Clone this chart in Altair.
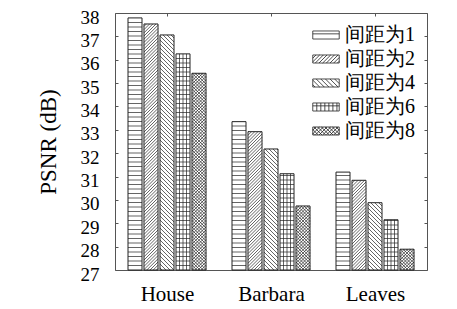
import altair as alt
import pandas as pd

# ---------------- data ----------------
categories = ["House", "Barbara", "Leaves"]
series = ["间距为1", "间距为2", "间距为4", "间距为6", "间距为8"]
psnr_gap1 = [37.79, 33.35, 31.19]
psnr_gap2 = [37.53, 32.92, 30.84]
psnr_gap4 = [37.06, 32.18, 29.88]
psnr_gap6 = [36.25, 31.12, 29.15]
psnr_gap8 = [35.42, 29.74, 27.89]
y_ticks = [27, 28, 29, 30, 31, 32, 33, 34, 35, 36, 37, 38]

series_values = [psnr_gap1, psnr_gap2, psnr_gap4, psnr_gap6, psnr_gap8]
patterns = ["h", "/", "\\", "grid", "x"]

# ---------------- layout / style ----------------
FONT = "Liberation Serif"
W, H = 312, 257
YMIN, YMAX = 27, 38
XMIN, XMAX = 0.5, 3.5
KX = W / (XMAX - XMIN)   # px per x unit
KY = H / (YMAX - YMIN)   # px per y unit
BAR_PX = 14
STEP_PX = 16
HSP = 4.5     # horizontal stripe spacing (px)
VSP = 3.5     # vertical stripe spacing (px)
DSP = {"/": 3.2, "\\": 4.0, "x": 3.2}


def diag(w, h, d):
    out = []
    c = -w + d / 2
    while c < h:
        xs = max(0.0, -c)
        xe = min(w, h - c)
        if xe - xs > 0.3:
            out.append((xs, xs + c, xe, xe + c))
        c += d
    return out


def hatch(kind, w, h):
    segs = []
    if kind in ("h", "grid"):
        y = HSP
        while y < h - 0.5:
            segs.append((0, y, w, y))
            y += HSP
    if kind == "grid":
        x = VSP
        while x < w - 0.5:
            segs.append((x, 0, x, h))
            x += VSP
    if kind in ("/", "x"):
        segs += diag(w, h, DSP[kind])
    if kind in ("\\", "x"):
        segs += [(w - a, b, w - c, d) for a, b, c, d in diag(w, h, DSP[kind])]
    return segs


bar_rows, hatch_rows = [], []
for s, (name, vals, pat) in enumerate(zip(series, series_values, patterns)):
    for g, (cat, v) in enumerate(zip(categories, vals)):
        center = (g + 1) + (s - 2) * STEP_PX / KX
        x0 = center - BAR_PX / 2 / KX
        x1 = center + BAR_PX / 2 / KX
        bar_rows.append({"category": cat, "series": name, "value": v, "x0": x0, "x1": x1})
        hpx = (v - YMIN) * KY
        for a, b, c, d in hatch(pat, BAR_PX, hpx):
            hatch_rows.append({"x": x0 + a / KX, "y": YMIN + b / KY,
                               "x2": x0 + c / KX, "y2": YMIN + d / KY})

bars_df = pd.DataFrame(bar_rows)
hatch_df = pd.DataFrame(hatch_rows)

# legend symbol paths (unit box -1..1)
SYM_W, SYM_H = 23, 7


def sym_path(kind):
    half = SYM_W / 2
    hh = SYM_H / 2 / half
    p = f"M-1,{-hh:.3f}H1V{hh:.3f}H-1Z"
    for a, b, c, d in hatch(kind, SYM_W, SYM_H):
        p += (f"M{(a - half) / half:.3f},{-(b - SYM_H / 2) / half:.3f}"
              f"L{(c - half) / half:.3f},{-(d - SYM_H / 2) / half:.3f}")
    return p


shape_expr = "{" + ",".join(f"'{n}':'{sym_path(k)}'" for n, k in zip(series, patterns)) + "}[datum.value]"
label_expr = "[" + ",".join(f"'{c}'" for c in categories) + "][datum.value - 1]"

xs = alt.Scale(domain=[XMIN, XMAX], nice=False, zero=False)
ys = alt.Scale(domain=[YMIN, YMAX], nice=False, zero=False)

legend = alt.Legend(
    title=None, orient="none", legendX=197, legendY=8,
    symbolSize=700, labelFont=FONT, labelFontSize=20, labelColor="black",
    labelOffset=5, rowPadding=0, padding=0,
    symbolType=alt.ExprRef(expr=shape_expr),
    symbolFillColor="white", symbolStrokeColor="#222", symbolStrokeWidth=0.8,
)

fill_layer = alt.Chart(bars_df).mark_bar(strokeWidth=0).encode(
    x=alt.X("x0:Q", scale=xs, axis=alt.Axis(
        orient="bottom", values=[1, 2, 3], labelExpr=label_expr, ticks=False,
        domain=False, grid=False, labelPadding=13, labelFontSize=21, title=None)),
    x2="x1:Q",
    y=alt.Y("value:Q", scale=ys, axis=alt.Axis(
        orient="left", values=y_ticks, ticks=False, domain=False, grid=False,
        labelPadding=16, labelFontSize=19, labelOffset=4, format="d",
        title="PSNR (dB)", titleFontSize=23, titlePadding=20)),
    y2=alt.datum(YMIN),
    fill=alt.Fill("series:N", scale=alt.Scale(domain=series, range=["white"] * 5), legend=legend),
)

hatch_layer = alt.Chart(hatch_df).mark_rule(strokeWidth=0.7, color="#222").encode(
    x=alt.X("x:Q", scale=xs, axis=alt.Axis(
        orient="top", values=[1, 2, 3], labels=False, domain=False, grid=False,
        tickSize=3, offset=-3, title=None)),
    x2="x2:Q",
    y=alt.Y("y:Q", scale=ys, axis=alt.Axis(
        orient="right", values=y_ticks, labels=False, domain=False, grid=False,
        tickSize=3, offset=-3, title=None)),
    y2="y2:Q",
)

outline_layer = alt.Chart(bars_df).mark_bar(fillOpacity=0, stroke="#222", strokeWidth=1).encode(
    x=alt.X("x0:Q", scale=xs, axis=None),
    x2="x1:Q",
    y=alt.Y("value:Q", scale=ys, axis=alt.Axis(
        orient="left", values=y_ticks, labels=False, domain=False, grid=False,
        tickSize=3, offset=-3, title=None)),
    y2=alt.datum(YMIN),
)

chart = alt.layer(fill_layer, hatch_layer, outline_layer).resolve_axis(
    x="independent", y="independent"
).properties(
    width=W, height=H,
    autosize=alt.AutoSizeParams(type="none"),
    padding={"left": 107, "top": 5, "right": 20, "bottom": 36},
    background="white",
).configure_view(
    stroke="#555", strokeWidth=1
).configure_axis(
    labelFont=FONT, titleFont=FONT, labelColor="black", titleColor="black",
    tickColor="#555", titleFontWeight="normal"
).configure_legend(labelFont=FONT)

chart.save("out.html", embed_options={"renderer": "svg", "actions": False})
